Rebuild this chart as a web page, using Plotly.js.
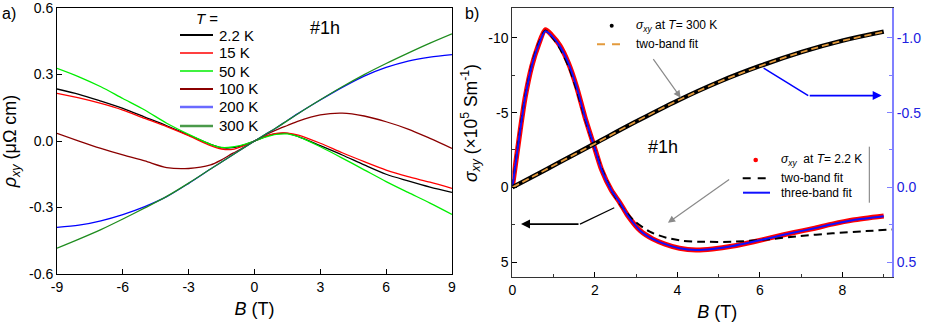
<!DOCTYPE html>
<html lang="en">
<head>
    <meta charset="UTF-8">
    <title>Hall resistivity and conductivity #1h</title>
    <script src="https://cdn.plot.ly/plotly-3.0.1.min.js"></script>
    <style>
        body { margin: 0; background: white; }
        #chart { width: 926px; height: 325px; }
    </style>
</head>
<body>
    <div id="chart"></div>

    <script>
        // ---- panel a: rho_xy (uOhm cm) vs B (T) ----
        const fieldA = [-9, -8, -7, -6, -5, -4, -3, -2, -1.5, -1, -0.5, 0, 0.5, 1, 1.5, 2, 3, 4, 5, 6, 7, 8, 9];
        const rho2K   = [0.235, 0.211, 0.18, 0.147, 0.108, 0.069, 0.027, -0.015, -0.03, -0.03, -0.018, 0, 0.02, 0.033, 0.035, 0.02, -0.021, -0.063, -0.108, -0.15, -0.18, -0.208, -0.232];
        const rho15K  = [0.215, 0.195, 0.17, 0.14, 0.102, 0.065, 0.024, -0.021, -0.036, -0.038, -0.022, 0, 0.022, 0.035, 0.036, 0.027, -0.01, -0.053, -0.093, -0.131, -0.161, -0.186, -0.214];
        const rho50K  = [0.328, 0.29, 0.245, 0.192, 0.14, 0.08, 0.03, -0.015, -0.029, -0.027, -0.016, 0, 0.018, 0.03, 0.032, 0.02, -0.026, -0.077, -0.13, -0.183, -0.232, -0.28, -0.331];
        const rho100K = [0.035, 0, -0.033, -0.063, -0.09, -0.12, -0.124, -0.108, -0.085, -0.056, -0.03, 0, 0.027, 0.05, 0.07, 0.09, 0.118, 0.126, 0.113, 0.087, 0.054, 0.012, -0.033];
        const rho200K = [-0.39, -0.38, -0.36, -0.332, -0.296, -0.251, -0.191, -0.126, -0.095, -0.063, -0.031, 0, 0.03, 0.06, 0.093, 0.125, 0.185, 0.242, 0.293, 0.332, 0.361, 0.379, 0.39];
        const rho300K = [-0.484, -0.443, -0.4, -0.352, -0.302, -0.25, -0.19, -0.126, -0.095, -0.063, -0.031, 0, 0.03, 0.06, 0.092, 0.124, 0.186, 0.245, 0.3, 0.35, 0.397, 0.442, 0.484];
        const tempLabels = ['2.2 K', '15 K', '50 K', '100 K', '200 K', '300 K'];
        const tempColors = ['#000000', '#ff0000', '#00ee00', '#8b0000', '#0000ff', '#1e8c1e'];

        // ---- panel b: sigma_xy vs B ----
        // T = 2.2 K, left axis (x10^5 S/m)
        const fieldLow   = [0, 0.07, 0.19, 0.31, 0.47, 0.63, 0.8, 0.95, 1.15, 1.36, 1.56, 1.76, 1.96, 2.16, 2.4, 2.6, 2.8, 3.1, 3.4, 3.7, 4.05, 4.45, 4.85, 5.35, 5.85, 6.3, 6.8, 7.3, 7.75, 8.25, 9.0];
        const sigmaLow   = [0, -1.4, -3.8, -6.0, -8.1, -9.5, -10.55, -10.2, -9.5, -8.3, -6.7, -4.7, -2.95, -1.2, 0.2, 1.0, 1.9, 2.9, 3.45, 3.8, 4.08, 4.2, 4.13, 3.93, 3.64, 3.35, 3.04, 2.75, 2.46, 2.19, 1.92];
        const threeBand  = [0, -1.4, -3.8, -6.0, -8.1, -9.5, -10.45, -10.15, -9.45, -8.3, -6.7, -4.7, -2.95, -1.2, 0.2, 1.0, 1.9, 2.9, 3.45, 3.8, 4.07, 4.19, 4.12, 3.92, 3.63, 3.35, 3.04, 2.75, 2.47, 2.2, 1.94];
        const fieldTwoLow = [0, 0.07, 0.19, 0.31, 0.47, 0.63, 0.8, 0.95, 1.15, 1.36, 1.56, 1.76, 1.96, 2.16, 2.4, 2.6, 2.93, 3.33, 3.73, 4.13, 4.54, 5.35, 6.15, 6.96, 7.76, 8.57, 9.2];
        const twoBandLow  = [0, -1.5, -3.9, -6.1, -8.2, -9.6, -10.5, -10.1, -9.3, -8.1, -6.5, -4.6, -2.9, -1.3, 0.2, 1.1, 2.19, 2.97, 3.37, 3.58, 3.64, 3.64, 3.49, 3.26, 3.08, 2.93, 2.82];
        // T = 300 K, right axis
        const fieldHigh   = [0, 0.5, 1, 1.5, 2, 3, 4, 5, 6, 7, 8, 9];
        const sigmaHigh   = [0, -0.072, -0.146, -0.22, -0.293, -0.44, -0.58, -0.705, -0.812, -0.905, -0.982, -1.042];
        const twoBandHigh = [0, -0.072, -0.146, -0.219, -0.292, -0.44, -0.579, -0.704, -0.811, -0.904, -0.98, -1.04];

        const FONT = 'Arial, "Liberation Sans", sans-serif';
        const SIG = '<i>σ</i><sub><i>xy</i></sub>';

        // plot area is 835 x 269 px, starting at (57, 8)
        const px = x => (x - 57) / 835;
        const py = y => (277 - y) / 269;

        const rhoSeries = [rho2K, rho15K, rho50K, rho100K, rho200K, rho300K];
        const data = rhoSeries.map((ys, i) => ({
            type: 'scatter', mode: 'lines',
            x: fieldA, y: ys,
            name: tempLabels[i],
            line: { color: tempColors[i], width: 1.3, shape: 'spline', smoothing: 0.8 },
            xaxis: 'x', yaxis: 'y'
        }));

        // panel b traces
        data.push(
            { type: 'scatter', mode: 'lines', x: fieldHigh, y: sigmaHigh, xaxis: 'x2', yaxis: 'y3',
              name: 'σxy 300 K', line: { color: 'black', width: 4.5, shape: 'spline' } },
            { type: 'scatter', mode: 'lines', x: fieldHigh, y: twoBandHigh, xaxis: 'x2', yaxis: 'y3',
              name: 'two-band fit 300 K', line: { color: '#e39a3c', width: 1.8, dash: '7px,4px', shape: 'spline' } },
            { type: 'scatter', mode: 'lines', x: fieldLow, y: sigmaLow, xaxis: 'x2', yaxis: 'y2',
              name: 'σxy 2.2 K', line: { color: '#ff0000', width: 5, shape: 'spline', smoothing: 0.7 } },
            { type: 'scatter', mode: 'lines', x: fieldTwoLow, y: twoBandLow, xaxis: 'x2', yaxis: 'y2',
              name: 'two-band fit 2.2 K', line: { color: 'black', width: 2, dash: '8px,5px', shape: 'spline', smoothing: 0.7 } },
            { type: 'scatter', mode: 'lines', x: fieldLow, y: threeBand, xaxis: 'x2', yaxis: 'y2',
              name: 'three-band fit 2.2 K', line: { color: '#1010ff', width: 2, shape: 'spline', smoothing: 0.7 } }
        );

        const axisBase = {
            showgrid: false, zeroline: false, showline: true, linecolor: 'black', linewidth: 1,
            ticks: 'inside', ticklen: 5, tickcolor: 'black',
            tickfont: { size: 14, color: 'black', family: FONT }
        };

        // hand-placed legends (line samples + labels)
        const shapes = [];
        const annotations = [];
        const legText = (text, x, y, size) => annotations.push({
            text: text, xref: 'paper', yref: 'paper', x: px(x), y: py(y),
            xanchor: 'left', yanchor: 'middle', showarrow: false, font: { size: size }
        });
        const legLine = (x0, x1, y, color, width, dash) => shapes.push({
            type: 'line', xref: 'paper', yref: 'paper', x0: px(x0), x1: px(x1), y0: py(y), y1: py(y),
            line: { color: color, width: width, dash: dash || 'solid' }
        });
        const legDot = (x, y, color, r) => shapes.push({
            type: 'circle', xref: 'paper', yref: 'paper', xsizemode: 'pixel', ysizemode: 'pixel',
            xanchor: px(x), yanchor: py(y), x0: -r, x1: r, y0: -r, y1: r,
            fillcolor: color, line: { width: 0 }
        });

        // panel a legend
        legText('<i>T</i> =', 194, 18, 15);
        const rowY = [35, 53, 71, 89, 107, 126];
        const sampleW = [1.8, 1.5, 1.5, 2, 2.5, 2.5];
        const sampleC = ['#000000', '#ff0000', '#00ee00', '#8b0000', '#6a6aff', '#4a9a4a'];
        tempLabels.forEach((lab, i) => {
            legLine(180, 213, rowY[i], sampleC[i], sampleW[i]);
            legText(lab, 217, rowY[i], 15);
        });
        // panel b legends
        legDot(611.7, 25.7, 'black', 2);
        legText(SIG + ' at <i>T</i>= 300 K', 634, 25.7, 12);
        legLine(597, 622, 44.3, '#e39a3c', 2, '8px,7px');
        legText('two-band fit', 634, 44.3, 12);
        legDot(755.7, 160, 'red', 2.3);
        legText(SIG + '  at <i>T</i>= 2.2 K', 779, 160, 12);
        legLine(742.7, 767, 178.3, 'black', 2, '8px,7px');
        legText('two-band fit', 779, 178.3, 12);
        legLine(743, 770, 192.7, '#1010ff', 2);
        legText('three-band fit', 779, 192.7, 12);

        annotations.push(
            { text: 'a)', xref: 'paper', yref: 'paper', x: -0.0683, y: 0.981, xanchor: 'left', yanchor: 'middle',
              showarrow: false, font: { size: 16 } },
            { text: 'b)', xref: 'paper', yref: 'paper', x: 0.486, y: 0.981, xanchor: 'left', yanchor: 'middle',
              showarrow: false, font: { size: 16 } },
            { text: '#1h', xref: 'x', yref: 'y', x: 3.23, y: 0.51, showarrow: false, font: { size: 18 } },
            { text: '#1h', xref: 'x2', yref: 'y2', x: 3.64, y: -2.7, showarrow: false, font: { size: 18 } },
            // gray arrow to 300 K curve
            { xref: 'x2', yref: 'y2', axref: 'x2', ayref: 'y2', x: 4.08, y: -6.0, ax: 3.39, ay: -8.68,
              showarrow: true, arrowhead: 2, arrowsize: 1.2, arrowwidth: 1.2, arrowcolor: '#8a8a8a', text: '' },
            // gray arrow to 2.2 K fits
            { xref: 'x2', yref: 'y2', axref: 'x2', ayref: 'y2', x: 3.77, y: 2.37, ax: 5.29, ay: -0.6,
              showarrow: true, arrowhead: 2, arrowsize: 1.2, arrowwidth: 1.2, arrowcolor: '#8a8a8a', text: '' },
            // blue arrow to right axis
            { xref: 'x2', yref: 'y2', axref: 'x2', ayref: 'y2', x: 8.95, y: -6.14, ax: 7.17, ay: -6.14,
              showarrow: true, arrowhead: 2, arrowsize: 1, arrowwidth: 1.8, arrowcolor: '#0000ff', text: '' },
            // black arrow to left axis
            { xref: 'x2', yref: 'y2', axref: 'x2', ayref: 'y2', x: 0.21, y: 2.46, ax: 1.64, ay: 2.46,
              showarrow: true, arrowhead: 2, arrowsize: 1, arrowwidth: 1.8, arrowcolor: 'black', text: '' }
        );
        shapes.push(
            { type: 'line', xref: 'x2', yref: 'y2', x0: 6.09, y0: -7.97, x1: 7.17, y1: -6.14,
              line: { color: '#0000ff', width: 1.5 } },
            { type: 'line', xref: 'x2', yref: 'y2', x0: 2.47, y0: 1.37, x1: 1.64, y1: 2.46,
              line: { color: 'black', width: 1.2 } },
            { type: 'line', xref: 'x2', yref: 'y2', x0: 8.65, y0: -2.72, x1: 8.65, y1: 1.03,
              line: { color: '#777', width: 1 } }
        );

        const layout = {
            width: 926, height: 325,
            margin: { l: 57, r: 34, t: 8, b: 48 },
            paper_bgcolor: 'white', plot_bgcolor: 'white',
            font: { family: FONT, color: 'black' },
            showlegend: false,
            xaxis: Object.assign({}, axisBase, {
                domain: [0, 0.473], range: [-9, 9], mirror: true,
                tickvals: [-9, -6, -3, 0, 3, 6, 9], ticktext: ['-9', '-6', '-3', '0', '3', '6', '9'],
                title: { text: '<i>B</i> (T)', font: { size: 18 }, standoff: 8 }
            }),
            yaxis: Object.assign({}, axisBase, {
                domain: [0.011, 1], range: [-0.6005, 0.6005], mirror: true,
                tickvals: [-0.6, -0.3, 0, 0.3, 0.6], ticktext: ['-0.6', '-0.3', '0.0', '0.3', '0.6'],
                title: { text: '<i>ρ</i><sub><i>xy</i></sub> (μΩ cm)', font: { size: 18 }, standoff: 8 }
            }),
            xaxis2: Object.assign({}, axisBase, {
                domain: [0.5453, 1], range: [0, 9.2], anchor: 'y2', mirror: true, linecolor: '#333',
                tickvals: [0, 2, 4, 6, 8],
                minor: { tickvals: [1, 3, 5, 7, 9], ticks: 'inside', ticklen: 3, tickcolor: '#333' },
                title: { text: '&nbsp;&nbsp;&nbsp;&nbsp;&nbsp;&nbsp;<i>B</i> (T)', font: { size: 18 }, standoff: 8 }
            }),
            yaxis2: Object.assign({}, axisBase, {
                domain: [0, 1], range: [6, -12], anchor: 'x2', linecolor: '#333',
                tickvals: [-10, -5, 0, 5], ticktext: ['-10', '-5', '0', '5'],
                minor: { tickvals: [-7.5, -2.5, 2.5], ticks: 'inside', ticklen: 3, tickcolor: '#333' },
                title: { text: '&nbsp;&nbsp;&nbsp;&nbsp;&nbsp;&nbsp;&nbsp;&nbsp;' + SIG + ' (×10<sup>5</sup> Sm<sup>-1</sup>)', font: { size: 17.5 }, standoff: 6 }
            }),
            yaxis3: Object.assign({}, axisBase, {
                range: [0.6, -1.2], overlaying: 'y2', side: 'right', anchor: 'x2',
                linecolor: '#8080ff', linewidth: 2, tickcolor: '#8080ff',
                tickvals: [-1, -0.5, 0, 0.5], ticktext: ['-1.0', '-0.5', '0.0', '0.5'],
                tickfont: { size: 14, color: '#2020e0', family: FONT },
                minor: { tickvals: [-0.75, -0.25, 0.25], ticks: 'inside', ticklen: 3, tickcolor: '#8080ff' }
            }),
            annotations: annotations,
            shapes: shapes
        };

        Plotly.newPlot('chart', data, layout, { displayModeBar: false, staticPlot: true });
    </script>
</body>
</html>
